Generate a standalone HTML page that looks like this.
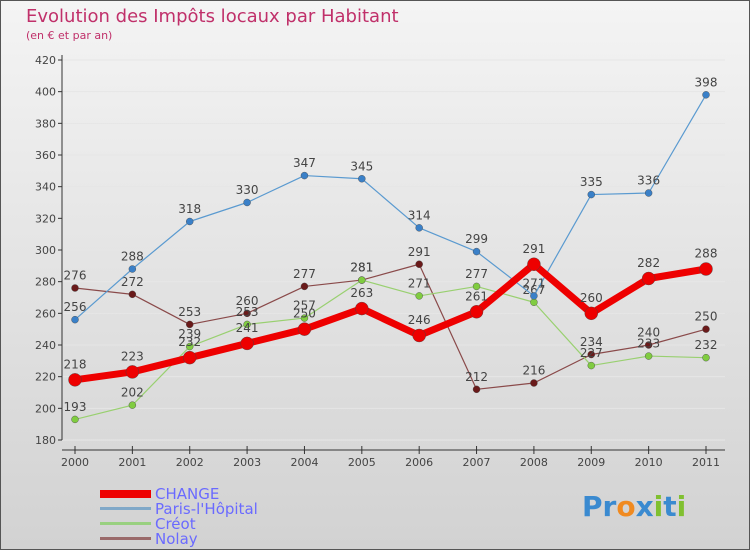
<!DOCTYPE html>
<html><head><meta charset="utf-8"><style>
body{margin:0;}
svg{display:block;font-family:"DejaVu Sans","Liberation Sans",sans-serif;}
</style></head><body>
<svg id="c" width="750" height="550">
<defs><linearGradient id="bg" x1="0" y1="0" x2="0" y2="1"><stop offset="0" stop-color="#f4f4f4"/><stop offset="1" stop-color="#d2d2d2"/></linearGradient></defs>
<rect x="0.5" y="0.5" width="749" height="549" fill="url(#bg)" stroke="#555"/>
<text x="26" y="22" font-size="18" fill="#c0306a">Evolution des Impôts locaux par Habitant</text>
<text x="26" y="39" font-size="11" fill="#c0306a">(en € et par an)</text>
<g id="grid"></g><g id="axes"></g><g id="series"></g>
<g>
<rect x="100" y="490" width="51" height="8" fill="#e00"/>
<text x="155" y="499" font-size="15" fill="#6a6aff">CHANGE</text>
<rect x="100" y="507" width="51" height="3" fill="#80a8c8"/>
<text x="155" y="514" font-size="15" fill="#6a6aff">Paris-l'Hôpital</text>
<rect x="100" y="522" width="51" height="3" fill="#99d080"/>
<text x="155" y="529" font-size="15" fill="#6a6aff">Créot</text>
<rect x="100" y="537" width="51" height="3" fill="#9a6a6a"/>
<text x="155" y="544" font-size="15" fill="#6a6aff">Nolay</text>
</g>
<g font-size="28" font-weight="bold">
<text x="582" y="516"><tspan fill="#3a8ad0">Pr</tspan><tspan fill="#f08a20">o</tspan><tspan fill="#3a8ad0">x</tspan><tspan fill="#80c030">i</tspan><tspan fill="#3a8ad0">t</tspan><tspan fill="#80c030">i</tspan></text>
</g>
</svg>
<script>
const years=[2000,2001,2002,2003,2004,2005,2006,2007,2008,2009,2010,2011];
const yTicks=[180,200,220,240,260,280,300,320,340,360,380,400,420];
const changeVals=[218,223,232,241,250,263,246,261,291,260,282,288];
const parisVals=[256,288,318,330,347,345,314,299,271,335,336,398];
const creotVals=[193,202,239,253,257,281,271,277,267,227,233,232];
const nolayVals=[276,272,253,260,277,281,291,212,216,234,240,250];
const NS="http://www.w3.org/2000/svg";
const xS=i=>75+i*(706-75)/11;
const yS=v=>440-(v-180)*380/240;
function mk(tag,attrs,parent){const e=document.createElementNS(NS,tag);for(const k in attrs)e.setAttribute(k,attrs[k]);parent.appendChild(e);return e;}
const grid=document.getElementById('grid'),axes=document.getElementById('axes'),ser=document.getElementById('series');
yTicks.forEach(t=>{
 const l=mk('line',{x1:62,x2:725,y1:yS(t),y2:yS(t),stroke:'#e6e6e6','stroke-width':1},grid);
 
 
 mk('line',{x1:58,x2:62,y1:yS(t),y2:yS(t),stroke:'#333'},axes);
 const tx=mk('text',{x:56,y:yS(t)+4,'font-size':11,fill:'#444','text-anchor':'end'},axes);
 tx.textContent=t;
 
 
});
mk('line',{x1:62,x2:62,y1:55,y2:440,stroke:'#333'},axes);
mk('line',{x1:62,x2:725,y1:450,y2:450,stroke:'#333'},axes);
years.forEach((y,i)=>{
 mk('line',{x1:xS(i),x2:xS(i),y1:446,y2:454,stroke:'#333'},axes);
 const tx=mk('text',{x:xS(i),y:466,'font-size':11,fill:'#444','text-anchor':'middle'},axes);
 tx.textContent=y;
 
 
});
function drawSeries(vals,color,dot,w,r,name){
 const g=mk('g',{},ser);
 
 
 const p=mk('polyline',{points:vals.map((v,i)=>xS(i)+','+yS(v)).join(' '),fill:'none',stroke:color,'stroke-width':w,'stroke-linejoin':'round'},g);
 
 
 vals.forEach((v,i)=>{
  const c=mk('circle',{cx:xS(i),cy:yS(v),r:r,fill:dot,stroke:'#444','stroke-width':0.4},g);
  
  
  const t=mk('text',{x:xS(i),y:yS(v)-(r+5),'font-size':12,fill:'#444','text-anchor':'middle'},g);
  t.textContent=v;
  
  
 });
}
drawSeries(nolayVals,'#8a4a4a','#6a1a1a',1.2,3.5,'nolay');
drawSeries(creotVals,'#99d070','#80cc40',1.2,3.5,'creot');
drawSeries(parisVals,'#5a9ad0','#3a80c8',1.2,3.5,'paris');
drawSeries(changeVals,'#ee0000','#ee0000',7,6.5,'change');
</script>
</body></html>
